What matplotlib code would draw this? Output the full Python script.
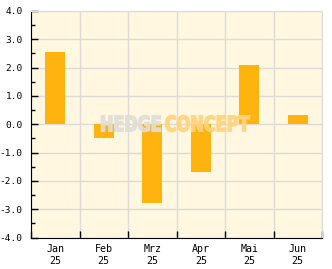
import matplotlib
matplotlib.use("Agg")
import matplotlib.pyplot as plt
from matplotlib.ticker import MultipleLocator, FormatStrFormatter, FixedLocator
from matplotlib.textpath import TextPath
from matplotlib.patches import PathPatch
from matplotlib.font_manager import FontProperties
from matplotlib.transforms import Affine2D

# monthly returns in %
months = ["Jan\n25", "Feb\n25", "Mrz\n25", "Apr\n25", "Mai\n25", "Jun\n25"]
returns = [2.55, -0.47, -2.77, -1.67, 2.09, 0.33]

W, H = 332, 269
BG = "#FFF7DF"
BAR = "#FFB30F"
GRID = "#DEDBD6"

fig = plt.figure(figsize=(W / 100, H / 100), dpi=100)
fig.patch.set_facecolor("white")
ax = fig.add_axes([31 / W, 1 - 237.5 / H, 291 / W, 226.5 / H])
ax.set_facecolor(BG)

x = list(range(len(months)))
ax.bar(x, returns, width=0.41, color=BAR, zorder=2)

ax.set_xlim(-0.5, len(months) - 0.5)
ax.set_ylim(-4, 4)

# y axis: major every 1.0, minor every 0.5, ticks pointing in
ax.yaxis.set_major_locator(MultipleLocator(1.0))
ax.yaxis.set_minor_locator(MultipleLocator(0.5))
ax.yaxis.set_major_formatter(FormatStrFormatter("%.1f"))
ax.tick_params(axis="y", which="major", direction="in", length=5, width=1, pad=6)
ax.tick_params(axis="y", which="minor", direction="in", length=3, width=1)

# x axis: labels at centres, ticks at month boundaries
ax.set_xticks(x)
ax.set_xticklabels(months, linespacing=1.2)
ax.xaxis.set_minor_locator(FixedLocator([i - 0.5 for i in range(len(months) + 1)]))
ax.tick_params(axis="x", which="major", length=0, pad=5)
ax.tick_params(axis="x", which="minor", direction="in", length=5, width=1)

for lab in ax.get_xticklabels() + ax.get_yticklabels():
    lab.set_fontfamily("DejaVu Sans Mono")
    lab.set_fontsize(7.2)
for lab in ax.get_yticklabels():
    lab.set_fontsize(6.8)

ax.grid(axis="y", which="major", color=GRID, linewidth=1, zorder=0)
ax.grid(axis="x", which="minor", color=GRID, linewidth=1, zorder=0)
ax.set_axisbelow(True)

for side in ("top", "right"):
    ax.spines[side].set_color(GRID)
for side in ("left", "bottom"):
    ax.spines[side].set_color("black")

# watermark
fp = FontProperties(family="DejaVu Sans", weight="bold")
for word, x0, x1, col in [("HEDGE", 101, 161, "#E0DED8"),
                          ("CONCEPT", 165, 250, "#FFD47E")]:
    tp = TextPath((0, 0), word, size=20, prop=fp)
    ext = tp.get_extents()
    tr = (Affine2D().translate(-ext.x0, -ext.y0)
          .scale((x1 - x0 - 1) / ext.width, 16 / ext.height)
          .translate(x0 + 0.5, H - 131.5))
    fig.add_artist(PathPatch(tp, transform=tr, facecolor=col,
                             edgecolor=col, linewidth=1.2,
                             alpha=0.88, zorder=5))

fig.savefig("out.png", dpi=100)
